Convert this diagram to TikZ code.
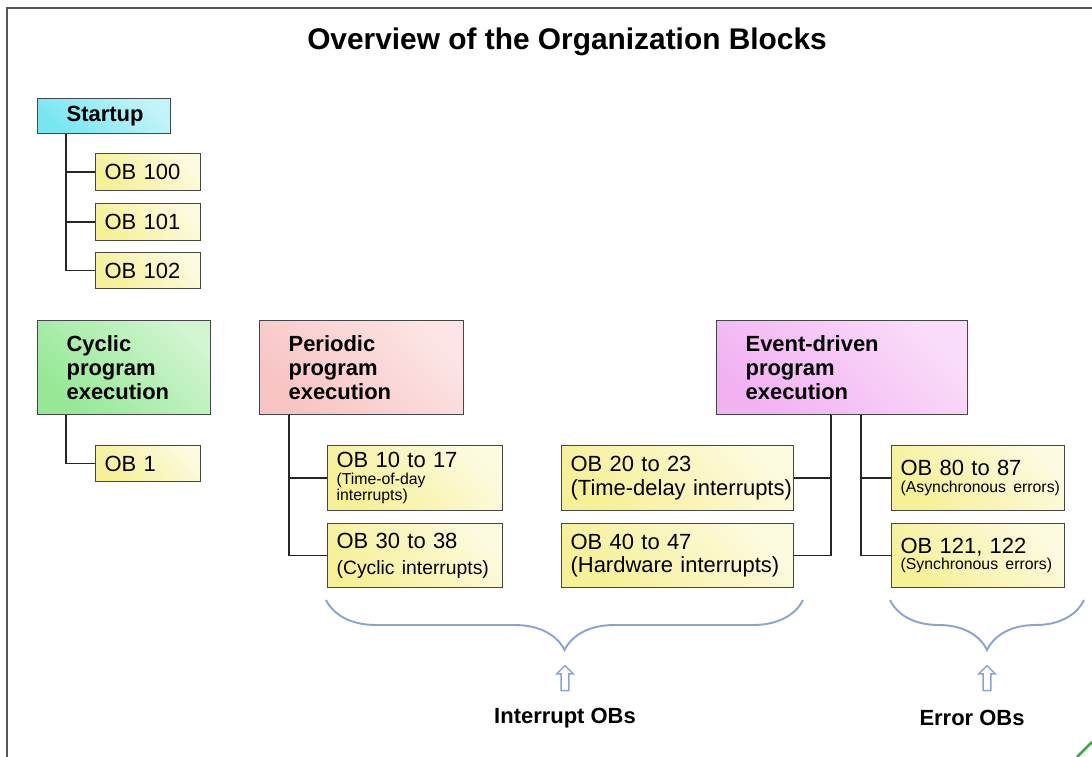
\documentclass[tikz,border=0pt]{standalone}
\usepackage{fontspec}
\setmainfont{Liberation Sans}
\usepackage{tikz}
\usetikzlibrary{shapes,arrows,decorations.pathreplacing}
\usepackage{color}

\definecolor{framegray}{RGB}{85,85,85}
\definecolor{boxline}{RGB}{70,70,70}
\definecolor{startcol}{RGB}{120,230,242}
\definecolor{cyccol}{RGB}{150,232,150}
\definecolor{percol}{RGB}{248,196,196}
\definecolor{evtcol}{RGB}{242,178,242}
\definecolor{obcol}{RGB}{246,240,150}
\definecolor{bracecol}{RGB}{140,163,207}
\definecolor{cornercol}{RGB}{60,170,60}

\tikzset{
  blk/.style={draw=boxline, line width=0.7pt, anchor=north west, align=left, inner ysep=1pt},
  head/.style={blk, top color=#1!45!white, bottom color=#1, shading angle=-45,
    inner xsep=0.58cm, minimum height=1.88cm, font=\fontsize{12.5}{13.6}\selectfont\bfseries},
  ob/.style={blk, top color=obcol!30!white, bottom color=obcol, shading angle=-45,
    inner xsep=0.18cm, font=\fontsize{12.5}{13.6}\selectfont},
  conn/.style={draw=black!85, line width=0.8pt},
  curly/.style={draw=bracecol, line width=1.1pt, decorate, decoration={brace, mirror, amplitude=1cm}},
  uparrow/.style={single arrow, shape border rotate=90, draw=bracecol, fill=white, line width=0.8pt,
    minimum height=0.5cm, single arrow head extend=0.09cm, inner sep=1.8pt},
  lbl/.style={font=\fontsize{12.5}{14}\selectfont\bfseries},
}
\newcommand{\obsmall}[1]{{\fontsize{9}{9.5}\selectfont #1\par}}

\begin{document}
\begin{tikzpicture}[x=0.02cm, y=-0.02cm]
  \useasboundingbox (0,0) rectangle (1092,757);
  % frame
  \draw[framegray, line width=1.1pt] (7,757) -- (7,8) -- (1092,8);
  \draw[cornercol, line width=1.5pt] (1077,757) -- (1092,742);

  % title
  \node[font=\fontsize{17}{20}\selectfont\bfseries] (title) at (567,42) {Overview of the Organization Blocks};

  % startup
  \node[head=startcol, text width=1.5cm, minimum height=0.70cm] (start) at (37,98) {Startup};
  \node[ob, text width=1.74cm, minimum height=0.74cm] (ob100) at (95,153) {OB 100};
  \node[ob, text width=1.74cm, minimum height=0.74cm] (ob101) at (95,203) {OB 101};
  \node[ob, text width=1.74cm, minimum height=0.72cm] (ob102) at (95,252) {OB 102};

  % cyclic
  \node[head=cyccol, text width=2.30cm] (cyc) at (37,320) {Cyclic\\program\\execution};
  \node[ob, text width=1.74cm, minimum height=0.72cm] (ob1) at (95,445) {OB 1};

  % periodic
  \node[head=percol, text width=2.92cm] (per) at (259,320) {Periodic\\program\\execution};
  \node[ob, text width=3.14cm, minimum height=1.30cm] (ob10) at (327,445)
    {OB 10 to 17\par\obsmall{(Time-of-day\\interrupts)}};
  \node[ob, text width=3.14cm, minimum height=1.28cm] (ob30) at (327,523)
    {OB 30 to 38\par{\fontsize{11}{14.5}\selectfont \mbox{(Cyclic interrupts)}\par}};

  % event-driven
  \node[head=evtcol, text width=3.86cm] (evt) at (716,320) {Event-driven\\program\\execution};
  \node[ob, text width=4.28cm, minimum height=1.30cm] (ob20) at (561,445)
    {OB 20 to 23\\\mbox{(Time-delay interrupts)}};
  \node[ob, text width=4.28cm, minimum height=1.28cm] (ob40) at (561,523)
    {OB 40 to 47\\\mbox{(Hardware interrupts)}};
  \node[ob, text width=3.10cm, minimum height=1.30cm] (ob80) at (891,445)
    {OB 80 to 87\par\obsmall{\mbox{(Asynchronous errors)}}};
  \node[ob, text width=3.10cm, minimum height=1.28cm] (ob121) at (891,523)
    {OB 121, 122\par\obsmall{\mbox{(Synchronous errors)}}};

  % connectors
  \draw[conn] (start.south west) ++(29,0) coordinate (sv) -- (sv |- ob102.west) -- (ob102.west);
  \draw[conn] (sv |- ob100.west) -- (ob100.west);
  \draw[conn] (sv |- ob101.west) -- (ob101.west);
  \draw[conn] (cyc.south west) ++(29,0) coordinate (cv) |- (ob1.west);
  \draw[conn] (per.south west) ++(30,0) coordinate (pv) |- (ob30.west);
  \draw[conn] (pv |- ob10.west) -- (ob10.west);
  \draw[conn] (evt.south west) ++(115,0) coordinate (ev1) |- (ob40.east);
  \draw[conn] (ev1 |- ob20.east) -- (ob20.east);
  \draw[conn] (evt.south west) ++(145,0) coordinate (ev2) |- (ob121.west);
  \draw[conn] (ev2 |- ob80.west) -- (ob80.west);

  % braces and labels
  \draw[curly] (326,600) -- (803,600);
  \draw[curly] (890,600) -- (1084,600);
  \node[uparrow] (iarr) at (565,680) {};
  \node[uparrow] (earr) at (987,680) {};
  \node[lbl] (ilbl) at (565,718) {Interrupt OBs};
  \node[lbl] (elbl) at (972,718) {Error OBs};
\end{tikzpicture}
\end{document}
